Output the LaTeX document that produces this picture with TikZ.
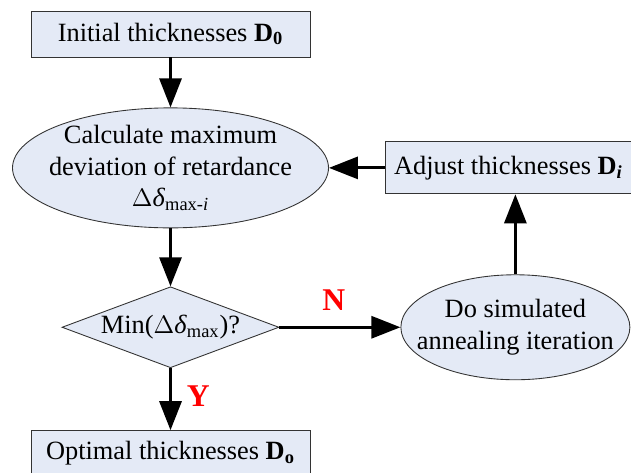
\documentclass[tikz,border=0pt]{standalone}
\usepackage{fontspec}
\setmainfont{Liberation Serif}
\usepackage{tikz}
\usetikzlibrary{shapes.geometric,arrows.meta,positioning}
\definecolor{boxfill}{RGB}{228,234,246}
\definecolor{yesno}{RGB}{255,0,0}

\begin{document}
\begin{tikzpicture}[
    font=\fontsize{15pt}{18pt}\selectfont,
    box/.style={rectangle, draw=black!80, line width=0.5pt, fill=boxfill, minimum width=5.58cm, minimum height=0.92cm, align=center},
    oval/.style={ellipse, draw=black!80, line width=0.5pt, fill=boxfill, align=center, inner xsep=-8mm, inner ysep=-4mm},
    decision/.style={diamond, aspect=2.68, draw=black!80, line width=0.5pt, fill=boxfill, align=center, inner sep=0pt, minimum width=4.34cm, minimum height=1.62cm},
    arrow/.style={-{Triangle[length=0.58cm, width=0.44cm]}, line width=1.7pt, draw=black},
    branch/.style={font=\fontsize{18pt}{20pt}\selectfont\bfseries, text=yesno, inner sep=0pt},
]
\useasboundingbox (0,0) rectangle (12.62,-9.44);

% === MAIN COLUMN ===
\node[box] (init) at (3.41,-0.68) {Initial thicknesses \textbf{D}\textsubscript{\textbf{0}}};
\node[oval, minimum width=6.32cm, minimum height=2.4cm, below=1.0cm of init] (calc) {Calculate maximum\\deviation of retardance\\$\Delta$\textit{δ}\textsubscript{max-\textit{i}}};
\node[decision, below=1.16cm of calc] (check) {Min($\Delta$\textit{δ}\textsubscript{max})?};
\node[box, below=1.24cm of check] (optimal) {Optimal thicknesses \textbf{D}\textsubscript{\textbf{o}}};

% === ITERATION LOOP ===
\node[oval, minimum width=4.58cm, minimum height=2.1cm, right=2.42cm of check] (anneal) {Do simulated\\annealing iteration};
\node[box, minimum width=4.92cm, minimum height=1.04cm, right=1.12cm of calc] (adjust) {Adjust thicknesses \textbf{D}\textsubscript{\textbf{\textit{i}}}};

% === ARROWS ===
\draw[arrow] (init) -- (calc);
\draw[arrow] (calc) -- (check);
\draw[arrow] (check) -- node[branch, pos=0.45, above=0.3cm] {N} (anneal);
\draw[arrow] (check) -- node[branch, pos=0.45, right=0.3cm] {Y} (optimal);
\draw[arrow] (anneal.north) -- (anneal.north |- adjust.south);
\draw[arrow] (adjust) -- (calc);

\end{tikzpicture}
\end{document}
